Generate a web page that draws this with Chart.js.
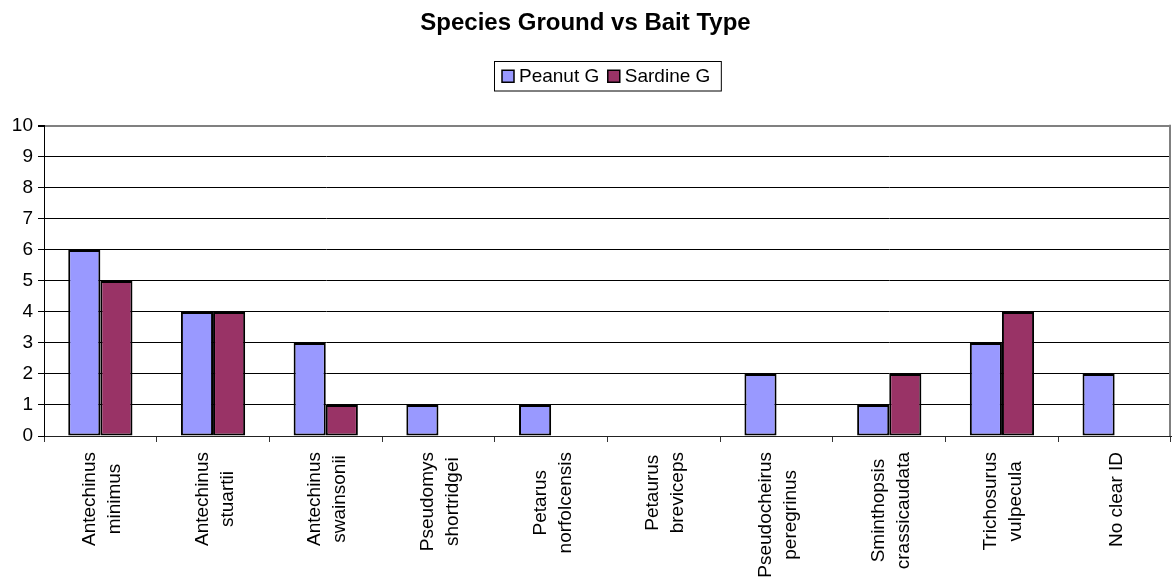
<!DOCTYPE html>
<html>
<head>
<meta charset="utf-8">
<script src="https://cdn.jsdelivr.net/npm/chart.js@4/dist/chart.umd.min.js"></script>
<style>
  html, body { margin: 0; padding: 0; background: #fff; }
  canvas { display: block; }
</style>
</head>
<body>
<canvas id="chart" width="1172" height="580"></canvas>
<script>
// Species recorded on the ground, by bait type
const categories = [
  ["Antechinus", "minimus"],
  ["Antechinus", "stuartii"],
  ["Antechinus", "swainsonii"],
  ["Pseudomys", "shortridgei"],
  ["Petarus", "norfolcensis"],
  ["Petaurus", "breviceps"],
  ["Pseudocheirus", "peregrinus"],
  ["Sminthopsis", "crassicaudata"],
  ["Trichosurus", "vulpecula"],
  ["No clear ID"]
];
const peanutG  = [6, 4, 3, 1, 1, 0, 2, 1, 3, 2];
const sardineG = [5, 4, 1, 0, 0, 0, 0, 2, 4, 0];
const yTickValues = [0, 1, 2, 3, 4, 5, 6, 7, 8, 9, 10];
const chartTitle = "Species Ground vs Bait Type";

const FONT = "'Liberation Sans', Arial, Helvetica, sans-serif";

// Draws the plot frame's right edge, the rotated category names and the boxed legend
const decorations = {
  id: 'decorations',
  afterDraw(chart) {
    const { ctx, chartArea: a, scales: { x } } = chart;
    ctx.save();

    // right edge of the plot frame
    ctx.strokeStyle = '#808080';
    ctx.lineWidth = 2;
    ctx.beginPath();
    ctx.moveTo(a.right - 1, a.top - 1);
    ctx.lineTo(a.right - 1, a.bottom);
    ctx.stroke();

    // category names, rotated, each line centred on the longest one
    ctx.font = `19px ${FONT}`;
    ctx.fillStyle = '#000';
    ctx.textAlign = 'center';
    ctx.textBaseline = 'alphabetic';
    const lh = 25;
    const top = a.bottom + 16;
    chart.data.labels.forEach((lab, i) => {
      const lines = Array.isArray(lab) ? lab : [lab];
      const cx = x.getPixelForValue(i);
      const maxW = Math.max(...lines.map(l => ctx.measureText(l).width));
      const cy = top + maxW / 2;
      lines.forEach((line, j) => {
        const bx = cx - lines.length * lh / 2 + j * lh + 19.5;
        ctx.save();
        ctx.translate(bx, cy);
        ctx.rotate(-Math.PI / 2);
        ctx.fillText(line, 0, 0);
        ctx.restore();
      });
    });

    // legend with a border, centred over the plot
    ctx.font = `19px ${FONT}`;
    ctx.textAlign = 'left';
    ctx.textBaseline = 'middle';
    const box = 12, padL = 7.5, padR = 11, gapText = 5, gapItem = 8.5;
    const items = chart.data.datasets.map(ds => ({
      text: ds.label, color: ds.backgroundColor, w: ctx.measureText(ds.label).width
    }));
    let total = padL + padR;
    items.forEach((it, k) => { total += box + gapText + it.w + (k < items.length - 1 ? gapItem : 0); });
    const lx = Math.round((a.left + a.right) / 2 - total / 2) + 0.5;
    const ly = 61.5, lhgt = 29.5, midY = ly + lhgt / 2;
    ctx.strokeStyle = '#000';
    ctx.lineWidth = 1;
    ctx.strokeRect(lx, ly, total, lhgt);
    let cxp = lx + padL;
    items.forEach(it => {
      ctx.fillStyle = it.color;
      ctx.fillRect(cxp, midY - box / 2, box, box);
      ctx.lineWidth = 1.5;
      ctx.strokeStyle = '#000';
      ctx.strokeRect(cxp, midY - box / 2, box, box);
      ctx.fillStyle = '#000';
      ctx.fillText(it.text, cxp + box + gapText, midY + 1);
      cxp += box + gapText + it.w + gapItem;
    });

    ctx.restore();
  }
};

new Chart(document.getElementById('chart'), {
  type: 'bar',
  data: {
    labels: categories,
    datasets: [
      {
        label: 'Peanut G',
        data: peanutG,
        backgroundColor: '#9999FF',
        borderColor: '#000',
        borderWidth: 2,
        borderSkipped: false,
        inflateAmount: 0
      },
      {
        label: 'Sardine G',
        data: sardineG,
        backgroundColor: '#993366',
        borderColor: '#000',
        borderWidth: 2,
        borderSkipped: false,
        inflateAmount: 0
      }
    ]
  },
  options: {
    responsive: false,
    animation: false,
    devicePixelRatio: 1,
    layout: { padding: { left: 0, right: 1, top: 0, bottom: 0 } },
    datasets: { bar: { categoryPercentage: 0.57, barPercentage: 1 } },
    plugins: {
      legend: { display: false },
      tooltip: { enabled: false },
      title: {
        display: true,
        text: chartTitle,
        color: '#000',
        font: { family: FONT, size: 24, weight: 'bold', lineHeight: 1.2 },
        padding: { top: 9, bottom: 88 }
      }
    },
    scales: {
      x: {
        offset: true,
        grid: {
          offset: true,
          drawOnChartArea: false,
          drawTicks: true,
          tickLength: 6,
          tickColor: '#333',
          lineWidth: 1
        },
        border: { display: true, color: '#222', width: 1 },
        ticks: { display: false },
        afterFit(scale) { scale.height = 144; }
      },
      y: {
        min: 0,
        max: 10,
        afterBuildTicks(scale) { scale.ticks = yTickValues.map(v => ({ value: v })); },
        ticks: {
          color: '#000',
          padding: 5,
          font: { family: FONT, size: 19 }
        },
        grid: {
          color: ctx => (ctx.tick && ctx.tick.value === 10 ? '#808080' : '#000'),
          lineWidth: ctx => (ctx.tick && ctx.tick.value === 10 ? 2 : 1),
          tickColor: '#000',
          tickLength: 6
        },
        border: { display: true, color: '#000', width: 1 },
        afterFit(scale) { scale.width = 44; }
      }
    }
  },
  plugins: [decorations]
});
</script>
</body>
</html>
